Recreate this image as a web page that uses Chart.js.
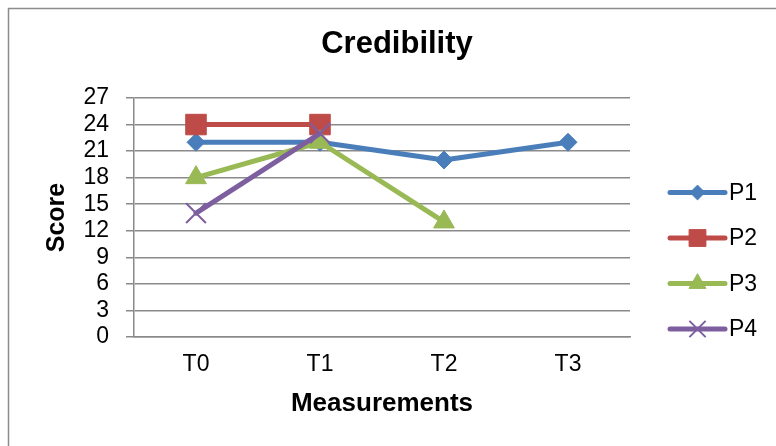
<!DOCTYPE html>
<html>
<head>
<meta charset="utf-8">
<title>Credibility</title>
<script src="https://cdn.jsdelivr.net/npm/chart.js@4/dist/chart.umd.min.js"></script>
<style>
  html, body { margin: 0; padding: 0; background: #ffffff; }
  #wrap { width: 776px; height: 446px; }
</style>
</head>
<body>
<div id="wrap"><canvas id="chart" width="776" height="446"></canvas></div>
<script>
// Measurement points and participant scores
const measurements = ['T0', 'T1', 'T2', 'T3'];
const seriesNames = ['P1', 'P2', 'P3', 'P4'];
const p1Scores = [22, 22, 20, 22];
const p2Scores = [24, 24, null, null];
const p3Scores = [18, 22, 13, null];
const p4Scores = [14, 23, null, null];
const scoreTicks = [0, 3, 6, 9, 12, 15, 18, 21, 24, 27];

const FONT = "'Liberation Sans', Arial, Helvetica, sans-serif";
const GRID = '#8a8a8a';

function series(label, data, color, style, radius, order, markerBorder) {
  return {
    label, data, order,
    borderColor: color,
    backgroundColor: color,
    borderWidth: 5,
    borderCapStyle: 'round',
    borderJoinStyle: 'round',
    pointStyle: style,
    pointRadius: radius,
    pointHoverRadius: radius,
    pointBackgroundColor: color,
    pointBorderColor: color,
    pointBorderWidth: markerBorder,
    tension: 0,
    spanGaps: false
  };
}

// Marker shapes for the legend samples
function marker(ctx, style, x, y, r) {
  ctx.beginPath();
  if (style === 'rectRot') {
    ctx.moveTo(x, y - r); ctx.lineTo(x + r, y); ctx.lineTo(x, y + r); ctx.lineTo(x - r, y);
    ctx.closePath(); ctx.fill(); ctx.stroke();
  } else if (style === 'rect') {
    const s = r * Math.SQRT1_2;
    ctx.rect(x - s, y - s, 2 * s, 2 * s); ctx.fill(); ctx.stroke();
  } else if (style === 'triangle') {
    for (let k = 0; k < 3; k++) {
      const a = k * 2 * Math.PI / 3;
      const px = x + Math.sin(a) * r, py = y - Math.cos(a) * r;
      if (k === 0) ctx.moveTo(px, py); else ctx.lineTo(px, py);
    }
    ctx.closePath(); ctx.fill(); ctx.stroke();
  } else if (style === 'crossRot') {
    const d = r * Math.SQRT1_2;
    ctx.moveTo(x - d, y - d); ctx.lineTo(x + d, y + d);
    ctx.moveTo(x - d, y + d); ctx.lineTo(x + d, y - d);
    ctx.stroke();
  }
}

// Side legend that reserves its own column in the chart layout
const sideLegend = {
  id: 'sideLegend',
  beforeInit(chart) {
    const box = {
      position: 'right',
      weight: 10,
      fullSize: false,
      options: {},
      left: 0, top: 0, right: 0, bottom: 0, width: 0, height: 0,
      isHorizontal() { return false; },
      update(maxWidth, maxHeight) { this.width = 146; this.height = maxHeight; },
      draw() {
        const ctx = chart.ctx;
        const x0 = this.left + 40, x1 = this.left + 95, cx = (x0 + x1) / 2;
        chart.data.datasets.forEach((ds, i) => {
          const y = 192.5 + i * 45.5;
          ctx.save();
          ctx.strokeStyle = ds.borderColor;
          ctx.fillStyle = ds.backgroundColor;
          ctx.lineWidth = ds.borderWidth;
          ctx.lineCap = 'round';
          ctx.beginPath(); ctx.moveTo(x0, y); ctx.lineTo(x1, y); ctx.stroke();
          ctx.lineWidth = ds.pointBorderWidth;
          ctx.lineCap = 'butt';
          marker(ctx, ds.pointStyle, cx, y, ds.pointRadius * 0.82);
          ctx.fillStyle = '#000000';
          ctx.font = '23px ' + FONT;
          ctx.textAlign = 'left';
          ctx.textBaseline = 'middle';
          ctx.fillText(ds.label, x1 + 4, y + 1);
          ctx.restore();
        });
      }
    };
    Chart.layouts.addBox(chart, box);
  }
};

// White background and the chart frame
const frame = {
  id: 'frame',
  beforeDraw(chart) {
    const ctx = chart.ctx;
    ctx.save();
    ctx.fillStyle = '#ffffff';
    ctx.fillRect(0, 0, chart.width, chart.height);
    ctx.strokeStyle = '#8c8c8c';
    ctx.lineWidth = 1.5;
    ctx.strokeRect(8.5, 8.5, chart.width + 40, chart.height + 40);
    ctx.restore();
  }
};

new Chart(document.getElementById('chart'), {
  type: 'line',
  data: {
    labels: measurements,
    datasets: [
      series(seriesNames[0], p1Scores, '#4A7EBB', 'rectRot', 9, 4, 1),
      series(seriesNames[1], p2Scores, '#BE4B48', 'rect', 14.5, 3, 1),
      series(seriesNames[2], p3Scores, '#98B954', 'triangle', 12, 2, 1),
      series(seriesNames[3], p4Scores, '#7D5FA0', 'crossRot', 14, 1, 2)
    ]
  },
  options: {
    responsive: false,
    animation: false,
    events: [],
    layout: { padding: { left: 18, right: 0, top: 0, bottom: 0 } },
    plugins: {
      legend: { display: false },
      tooltip: { enabled: false },
      title: {
        display: true,
        text: 'Credibility',
        color: '#000000',
        font: { family: FONT, size: 31, weight: 'bold' },
        padding: { top: 25.5, bottom: 35.3 }
      }
    },
    scales: {
      x: {
        type: 'category',
        offset: true,
        grid: { display: false, drawTicks: false, tickLength: 0 },
        border: { display: true, color: GRID, width: 1.5 },
        ticks: { color: '#000000', font: { family: FONT, size: 23 }, padding: 14, maxRotation: 0, autoSkip: false },
        title: {
          display: true,
          text: 'Measurements',
          color: '#000000',
          font: { family: FONT, size: 26, weight: 'bold' },
          padding: { top: 0, bottom: 26.5 }
        },
        afterFit(scale) { scale.height = 109; }
      },
      y: {
        min: 0,
        max: 27,
        grid: { color: GRID, lineWidth: 1.5, drawTicks: true, tickLength: 8 },
        border: { display: true, color: GRID, width: 1.5 },
        ticks: { color: '#000000', font: { family: FONT, size: 23 }, padding: 17, stepSize: 3, autoSkip: false },
        afterBuildTicks(scale) { scale.ticks = scoreTicks.map(v => ({ value: v })); },
        title: {
          display: true,
          text: 'Score',
          color: '#000000',
          font: { family: FONT, size: 25, weight: 'bold' },
          padding: { top: 24, bottom: 0 }
        },
        afterFit(scale) { scale.width = 116; }
      }
    }
  },
  plugins: [frame, sideLegend]
});
</script>
</body>
</html>
